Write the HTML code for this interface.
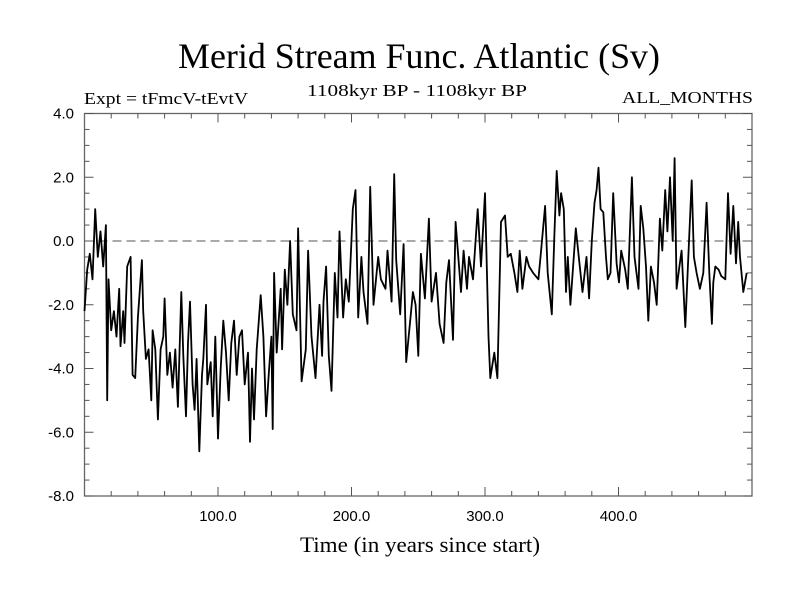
<!DOCTYPE html>
<html><head><meta charset="utf-8"><style>
html,body{margin:0;padding:0;background:#fff;}
svg{display:block;font-family:"Liberation Serif",serif;}
</style></head><body>
<svg id="chart" width="800" height="600" viewBox="0 0 800 600" xmlns="http://www.w3.org/2000/svg">
<rect width="800" height="600" fill="#fff"/>
<text x="178" y="68" font-size="36" textLength="482" lengthAdjust="spacingAndGlyphs">Merid Stream Func. Atlantic (Sv)</text>
<text x="84" y="104" font-size="17" textLength="164" lengthAdjust="spacingAndGlyphs">Expt = tFmcV-tEvtV</text>
<text x="307" y="96" font-size="17" textLength="220" lengthAdjust="spacingAndGlyphs">1108kyr BP - 1108kyr BP</text>
<text x="622" y="103" font-size="17" textLength="131" lengthAdjust="spacingAndGlyphs">ALL_MONTHS</text>
<text x="300" y="552" font-size="22" textLength="240" lengthAdjust="spacingAndGlyphs">Time (in years since start)</text>
<g id="axes"></g>
<g id="series"></g>
</svg>
<script>
const years=[0,2,4,6,8,10,12,14,16,17,18,20,22,24,26,27,29,30,32,34.5,36,38,40,43,44,46,48,50,51,53,55,57,59,60,62,64,66,68,70,72.5,74,76,77.5,79,81,82.5,84,86,88,89,91,92,94.5,96,98,100,102,104,106,108,110,112,114,116,118,120,122.5,124,125.5,127,129,130,132,134,136,138,140,141,142,144,147,148,150,152,154,156,158.8,160,162.6,165.8,167.5,170,173,176,178,179,181,183,185,187.5,189.5,191,193.7,195.7,198,201,203,205,207.4,209,212,214,216.5,220,222,225.5,227,230,232,233.5,236.5,239,241,244,246,248,250,252,255,258,260,263.3,266,269,271,273,276,278,282,284,286.5,288,291,294.5,297,300,302.6,304,307,309.3,312,315,317,319.3,322,324.3,326,328,331,333,336,340,342,345,347,350,352,353.7,355.7,357,359,360.7,362,364,366,368,371,373,376,378,380,382,383.6,385,386.6,388.6,390.6,392,394,396,398.6,400.4,402,405,407,410,412,415,416.6,418.6,420.6,422.3,424.3,426.6,428.6,431,432.8,435,436.6,438.6,440.6,442,443.5,445.6,447.3,450,452,454.8,456.5,458.5,461,463.5,466,468,470,471,472.5,475,477,480,482,484,486,488,489.7,491,493.5,496,498,500];
const values=[-2.2,-0.9,-0.4,-1.2,1.0,-0.5,0.3,-0.8,0.5,-5.0,-1.2,-2.8,-2.2,-3.0,-1.5,-3.3,-2.2,-3.2,-0.8,-0.5,-4.2,-4.3,-2.4,-0.6,-2.2,-3.7,-3.4,-5.0,-2.8,-3.4,-5.6,-3.4,-3.0,-1.8,-4.2,-3.5,-4.6,-3.4,-5.2,-1.6,-3.6,-5.5,-3.2,-1.9,-4.5,-5.3,-3.7,-6.6,-4.2,-3.7,-2.0,-4.5,-3.8,-5.5,-3.0,-6.2,-4.0,-2.5,-3.5,-5.0,-3.2,-2.5,-4.2,-3.0,-2.8,-4.5,-3.5,-6.3,-4.0,-5.6,-3.4,-2.8,-1.7,-3.0,-5.5,-4.2,-3.0,-5.9,-1.0,-3.5,-1.5,-3.4,-0.9,-2.0,0.0,-2.3,-2.8,0.4,-4.4,-3.4,-0.3,-3.0,-4.3,-2.0,-3.6,-1.9,-0.8,-3.6,-4.7,-1.0,-2.4,0.3,-2.4,-1.2,-1.9,1.0,1.6,-2.4,-0.5,-1.6,-2.6,1.7,-2.0,-0.5,-1.2,-1.5,-0.3,-1.9,2.1,-0.6,-2.3,-0.1,-3.8,-2.5,-1.6,-2.0,-3.6,-0.4,-1.8,0.7,-1.9,-1.0,-2.6,-3.2,-1.3,-0.6,-3.1,0.6,-1.6,-0.3,-1.5,-0.5,-1.2,1.0,-0.8,1.5,-3.0,-4.3,-3.5,-4.3,0.6,0.8,-0.5,-0.4,-1.0,-1.6,-0.3,-1.5,-0.5,-0.8,-1.0,-1.2,-0.3,1.1,-1.0,-2.3,0.2,2.2,0.8,1.5,1.0,-1.6,-0.5,-2.0,-0.8,0.4,-0.8,-1.6,-0.5,-1.8,0.0,1.2,1.6,2.3,1.0,0.9,-0.5,-1.2,-1.0,1.5,-0.7,-1.3,-0.3,-0.9,-1.5,2.0,-0.5,-1.5,1.1,0.4,-0.8,-2.5,-0.8,-1.3,-2.0,0.7,-0.3,1.6,0.3,2.0,0.0,2.6,-1.5,-0.8,-0.3,-2.7,-0.8,1.9,-0.5,-1.0,-1.5,-1.0,1.2,-1.0,-2.6,-1.3,-0.8,-0.9,-1.1,-1.2,1.5,-0.4,1.1,-0.7,0.6,-0.5,-1.6,-1.0];
const yTickLabels=["4.0","2.0","0.0","-2.0","-4.0","-6.0","-8.0"];
const yTickValues=[4,2,0,-2,-4,-6,-8];
const xTickValues=[100,200,300,400];
const xTickLabels=["100.0","200.0","300.0","400.0"];
const X0=84.5,X1=752,Y0=113.5,Y1=496;
const xMin=0,xMax=500,yMin=-8,yMax=4;
function sx(v){return X0+(v-xMin)/(xMax-xMin)*(X1-X0);}
function sy(v){return Y1-(v-yMin)/(yMax-yMin)*(Y1-Y0);}
const NS="http://www.w3.org/2000/svg";
const axes=document.getElementById('axes');
const ser=document.getElementById('series');
function mk(tag,attrs,parent){const e=document.createElementNS(NS,tag);for(const k in attrs)e.setAttribute(k,attrs[k]);parent.appendChild(e);return e;}
// zero line
const z=mk('line',{x1:X0,x2:X1,y1:sy(0),y2:sy(0),stroke:'#555','stroke-width':1,'stroke-dasharray':'9,5'},axes);


// frame
const fr=mk('rect',{x:X0,y:Y0,width:X1-X0,height:Y1-Y0,fill:'none',stroke:'#666','stroke-width':1.3},axes);


// y ticks every 0.5
for(let v=yMin;v<=yMax+1e-9;v+=0.5){
  const major=Math.abs(v/2-Math.round(v/2))<1e-9;
  const len=major?9:5;const y=sy(v);
  const t1=mk('line',{x1:X0,x2:X0+len,y1:y,y2:y,stroke:'#555','stroke-width':1},axes);
  
  
  const t2=mk('line',{x1:X1-len,x2:X1,y1:y,y2:y,stroke:'#555','stroke-width':1},axes);
  
  
}
yTickValues.forEach((v,i)=>{
  const t=mk('text',{x:74,y:sy(v)+5,'font-size':15,'text-anchor':'end','font-family':'"Liberation Sans",sans-serif'},axes);
  t.textContent=yTickLabels[i];
  
  
});
// x ticks every 20
for(let v=20;v<xMax;v+=20){
  const major=v%100===0;const len=major?9:5;const x=sx(v);
  const t1=mk('line',{x1:x,x2:x,y1:Y1,y2:Y1-len,stroke:'#555','stroke-width':1},axes);
  
  
  const t2=mk('line',{x1:x,x2:x,y1:Y0,y2:Y0+len,stroke:'#555','stroke-width':1},axes);
  
  
}
xTickValues.forEach((v,i)=>{
  const t=mk('text',{x:sx(v),y:521,'font-size':15,'text-anchor':'middle','font-family':'"Liberation Sans",sans-serif'},axes);
  t.textContent=xTickLabels[i];
  
  
});
// series
const pts=years.map((yr,i)=>sx(yr).toFixed(1)+','+sy(values[i]).toFixed(1)).join(' ');
const pl=mk('polyline',{points:pts,fill:'none',stroke:'#000','stroke-width':1.8,'stroke-linejoin':'round'},ser);


</script>
</body></html>
